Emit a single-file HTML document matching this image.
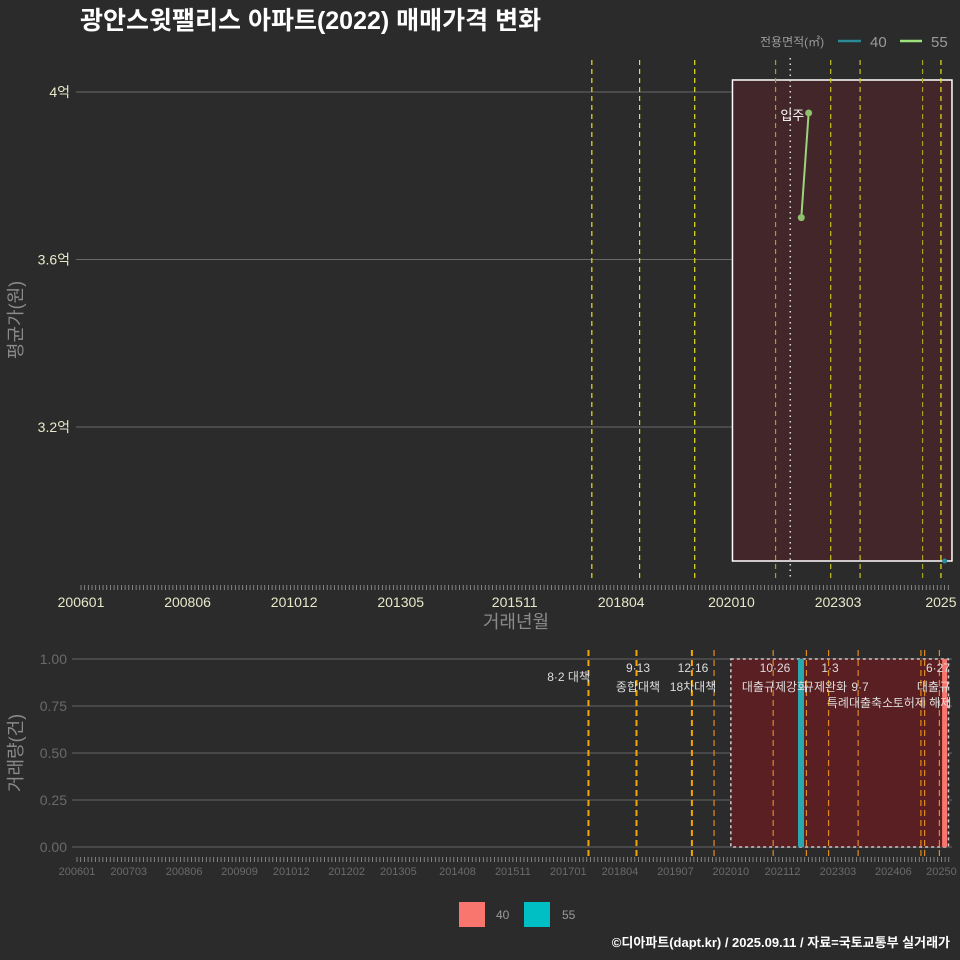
<!DOCTYPE html>
<html><head><meta charset="utf-8"><style>
body{margin:0;background:#2b2b2c;}
svg{display:block;font-family:"Liberation Sans","Noto Sans CJK KR",sans-serif;}
</style></head><body>
<svg id="c" width="960" height="960" viewBox="0 0 960 960" xmlns="http://www.w3.org/2000/svg">
<rect x="0" y="0" width="960" height="960" fill="#2b2b2c"/>
<text x="80" y="29" fill="#ffffff" font-size="25" font-weight="bold">광안스윗팰리스 아파트(2022) 매매가격 변화</text>
<g>
<text x="760" y="46" fill="#9a9a9a" font-size="12">전용면적(㎡)</text>
<line x1="838" y1="41" x2="861" y2="41" stroke="#2a8a95" stroke-width="2.5"/>
<text x="870" y="47" fill="#9a9a9a" font-size="15">40</text>
<line x1="900" y1="41" x2="922" y2="41" stroke="#9be37a" stroke-width="2.5"/>
<text x="931" y="47" fill="#9a9a9a" font-size="15">55</text>
</g>
<g id="topPanel"></g>
<g id="botPanel"></g>
<g>
<rect x="459" y="902" width="26" height="25" fill="#f8766d"/>
<text x="496" y="919" fill="#9a9a9a" font-size="12">40</text>
<rect x="524" y="902" width="26" height="25" fill="#00bfc4"/>
<text x="562" y="919" fill="#9a9a9a" font-size="12">55</text>
</g>
<text x="950" y="947" text-anchor="end" fill="#ffffff" font-size="13" font-weight="bold">©디아파트(dapt.kr) / 2025.09.11 / 자료=국토교통부 실거래가</text>
</svg>
<script>
// ---- data ----
const topTickLabels = ["200601","200806","201012","201305","201511","201804","202010","202303","2025"];
const topTickMonths = [0,29,58,87,118,147,177,206,234];
const botTickLabels = ["200601","200703","200806","200909","201012","201202","201305","201408","201511","201701","201804","201907","202010","202112","202303","202406","20250"];
const botTickMonths = [0,14,29,44,58,73,87,103,118,133,147,162,177,191,206,221,234];
const priceTicks = [3.2,3.6,4.0];
const priceTickLabels = ["3.2억","3.6억","4억"];
const s55Months = [198,196];
const s55Values = [3.95,3.70];
const s40Months = [235];
const s40Values = [2.88];
const volTicks = [0,0.25,0.5,0.75,1];
const volTickLabels = ["0.00","0.25","0.50","0.75","1.00"];
const volBar55Months = [196];
const volBar55Values = [1];
const volBar40Months = [235];
const volBar40Values = [1];
const policyMonths = [139,152,167,173,189,198,204,212,229,230,234];
const policyTopColors = ["#e8e020","#e8e020","#e8e020",null,"#a8a020",null,"#c8c020","#c8c020","#a8a020",null,"#e8e020"];
const moveInMonth = 193;
const highlightStart = 177, highlightEnd = 237;

const NS="http://www.w3.org/2000/svg";
function el(parent,tag,attrs,text){const e=document.createElementNS(NS,tag);for(const k in attrs)e.setAttribute(k,attrs[k]);if(text!=null)e.textContent=text;parent.appendChild(e);return e;}
const xT = m => 81 + 3.675*m;
const yT = v => 92 + (4.0 - v)/0.4*167.5;
const xB = m => 77 + 3.694*m;
const yB = v => 847 - v*188;

const topG=document.getElementById('topPanel');
priceTicks.forEach((v,i)=>{
  const g=el(topG,'line',{x1:76,x2:952,y1:yT(v),y2:yT(v),stroke:'#6a6a6a','stroke-width':1});
  
  
  const t=el(topG,'text',{x:70,y:yT(v)+5,'text-anchor':'end',fill:'#e8e8c8','font-size':14},priceTickLabels[i]);
  
  
});
const hb=el(topG,'rect',{x:xT(highlightStart)+1,y:80,width:xT(highlightEnd)-xT(highlightStart)-1,height:481,fill:'#42262a',stroke:'#ffffff','stroke-width':1.5});


policyMonths.forEach((m,i)=>{
  if(!policyTopColors[i])return;
  const l=el(topG,'line',{x1:xT(m),x2:xT(m),y1:60,y2:580,stroke:policyTopColors[i],'stroke-width':1.2,'stroke-dasharray':'5,4'});
  
  
});
const mv=el(topG,'line',{x1:xT(moveInMonth),x2:xT(moveInMonth),y1:58,y2:580,stroke:'#dddddd','stroke-width':1.5,'stroke-dasharray':'1.5,4'});


const mvt=el(topG,'text',{x:xT(moveInMonth)+14,y:120,'text-anchor':'end',fill:'#ffffff','font-size':13},'입주');


const pts=s55Months.map((m,i)=>xT(m)+','+yT(s55Values[i])).join(' ');
const pl=el(topG,'polyline',{points:pts,fill:'none',stroke:'#9bd47a','stroke-width':2});


s55Months.forEach((m,i)=>{
  const c=el(topG,'circle',{cx:xT(m),cy:yT(s55Values[i]),r:3.5,fill:'#8fc06e'});
  
  
});
s40Months.forEach((m,i)=>{
  const c=el(topG,'circle',{cx:xT(m),cy:yT(s40Values[i]),r:2.5,fill:'#2a8a95'});
  
  
});
for(let m=0;m<=236;m++){
  const t=el(topG,'line',{x1:xT(m),x2:xT(m),y1:585,y2:590,stroke:'#999','stroke-width':0.8});
  
  
}
topTickLabels.forEach((s,i)=>{
  const t=el(topG,'text',{x:xT(topTickMonths[i]),y:607,'text-anchor':'middle',fill:'#e8e8c8','font-size':14},s);
  
  
});
const xt=el(topG,'text',{x:516,y:628,'text-anchor':'middle',fill:'#8a8a8a','font-size':18},'거래년월');


const yt=el(topG,'text',{x:0,y:0,'text-anchor':'middle',fill:'#8a8a8a','font-size':18,transform:'translate(22,320) rotate(-90)'},'평균가(원)');



const botG=document.getElementById('botPanel');
volTicks.forEach((v,i)=>{
  const g=el(botG,'line',{x1:72,x2:952,y1:yB(v),y2:yB(v),stroke:'#666','stroke-width':1});
  
  
  const t=el(botG,'text',{x:67,y:yB(v)+5,'text-anchor':'end',fill:'#6a6a6a','font-size':14},volTickLabels[i]);
  
  
});
const hb2=el(botG,'rect',{x:xB(highlightStart),y:yB(1),width:xB(highlightEnd)-xB(highlightStart)-4,height:yB(0)-yB(1),fill:'#5a1f22',stroke:'#cccccc','stroke-width':1.5,'stroke-dasharray':'3,3'});


policyMonths.forEach((m,i)=>{
  const l=el(botG,'line',{x1:xB(m)-2,x2:xB(m)-2,y1:650,y2:858,stroke:i<3?'#f0a800':'#e08a20','stroke-width':i<3?2:1.2,'stroke-dasharray':'6,4'});
  
  
});
volBar55Months.forEach((m,i)=>{
  const r=el(botG,'rect',{x:xB(m)-3,y:yB(volBar55Values[i]),width:6,height:yB(0)-yB(volBar55Values[i]),fill:'#2aa8b0'});
  
  
});
volBar40Months.forEach((m,i)=>{
  const r=el(botG,'rect',{x:xB(m)-3,y:yB(volBar40Values[i]),width:5,height:yB(0)-yB(volBar40Values[i]),fill:'#f8766d'});
  
  
});
const ann=[["8·2 대책",590,681,"end"],["9·13",638,672,"middle"],["종합대책",638,691,"middle"],["12·16",693,672,"middle"],["18차대책",693,691,"middle"],["10·26",775,672,"middle"],["대출규제강화",775,691,"middle"],["1·3",830,672,"middle"],["규제완화",825,691,"middle"],["9·7",860,691,"middle"],["특례대출축소",860,707,"middle"],["토허제 해제",922,707,"middle"],["6·27",938,672,"middle"],["대출규",950,691,"end"]];
ann.forEach(a=>{
  const t=el(botG,'text',{x:a[1],y:a[2],'text-anchor':a[3],fill:'#dddddd','font-size':12},a[0]);
  
  
});
for(let m=0;m<=236;m++){
  const t=el(botG,'line',{x1:xB(m),x2:xB(m),y1:857,y2:862,stroke:'#999','stroke-width':0.8});
  
  
}
botTickLabels.forEach((s,i)=>{
  const t=el(botG,'text',{x:xB(botTickMonths[i]),y:875,'text-anchor':'middle',fill:'#6a6a6a','font-size':11},s);
  
  
});
const yt2=el(botG,'text',{x:0,y:0,'text-anchor':'middle',fill:'#8a8a8a','font-size':18,transform:'translate(22,753) rotate(-90)'},'거래량(건)');


</script>
</body></html>
